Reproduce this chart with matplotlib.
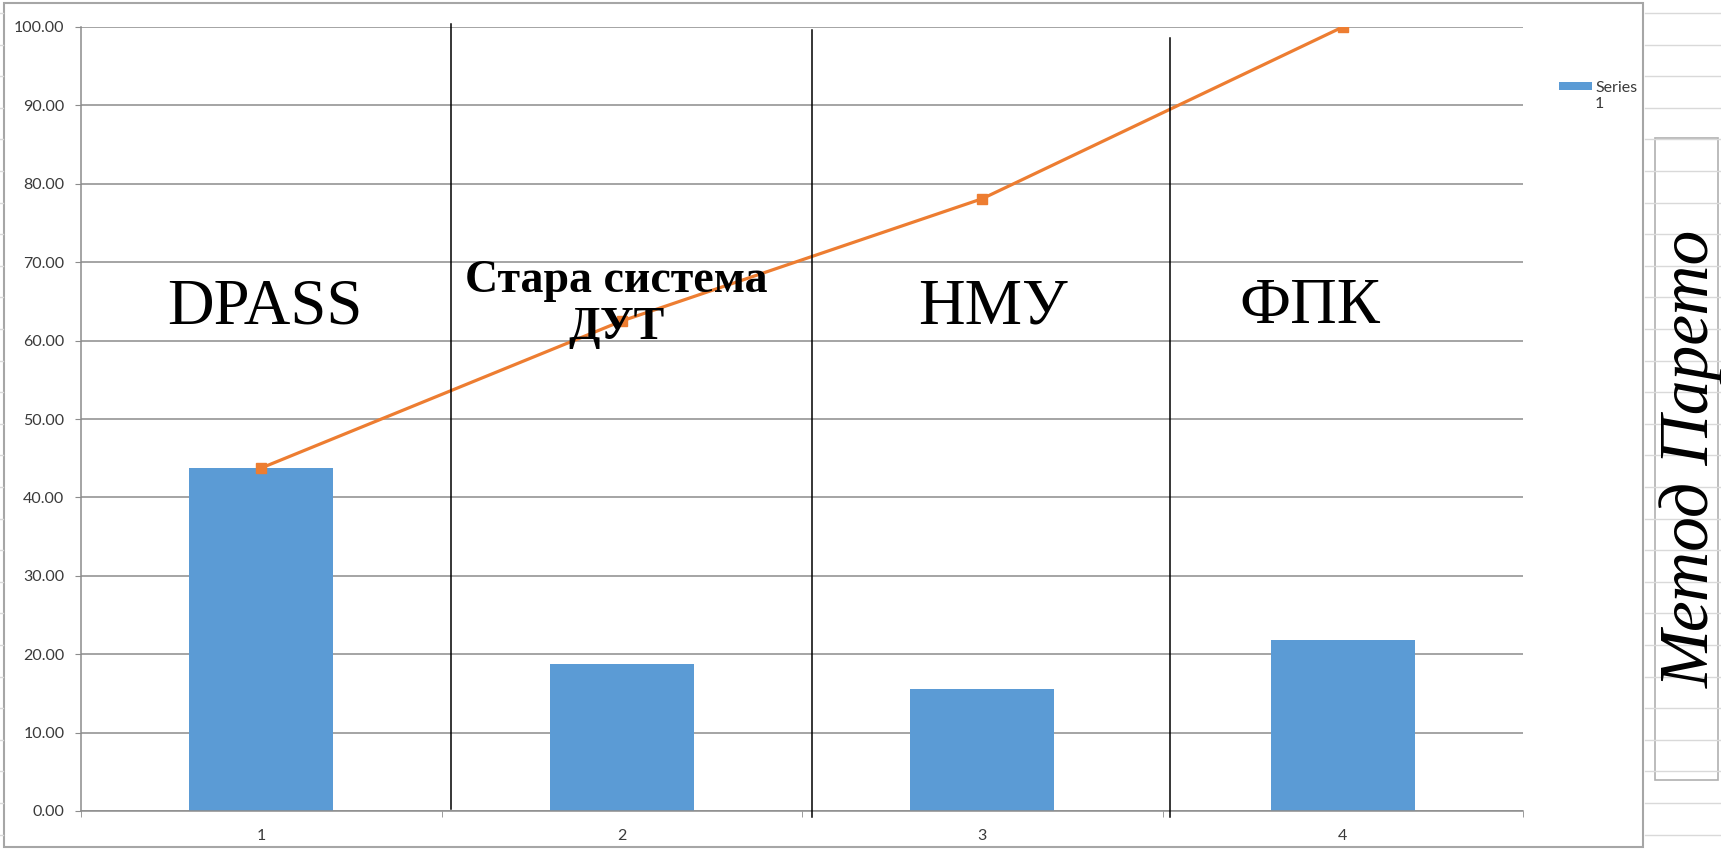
import numpy as np
import matplotlib.pyplot as plt
from matplotlib.patches import Rectangle
from matplotlib.lines import Line2D

# --------------------
# Data
# --------------------
categories = [1, 2, 3, 4]
shares = [43.75, 18.75, 15.625, 21.875]          # bars
cumulative = [43.75, 62.5, 78.1, 100.0]           # Pareto line
group_names = ["DPASS", "Стара система\nДУТ", "НМУ", "ФПК"]
group_bold = [False, True, False, False]
name_x = [1.01, 1.985, 3.03, 3.91]
name_y = [64.2, 64.6, 64.2, 64.2]
y_ticks = np.arange(0, 101, 10)
series_name = "Series\n1"
side_title = "Метод Парето"

# separator lines drawn by hand over the chart: x, y bottom, y top
sep_x = [1.526, 2.528, 3.52]
sep_y0 = [0.3, -0.8, -0.8]
sep_y1 = [100.4, 99.6, 98.6]

# --------------------
# Style
# --------------------
W, H, DPI = 1721, 851, 100
BAR_COLOR = "#5B9BD5"
LINE_COLOR = "#ED7D31"
GRID_COLOR = "#8c8c8c"
LABEL_COLOR = "#3a3a3a"
plt.rcParams["font.family"] = ["Lato", "DejaVu Sans"]


def px(x, y):
    # pixel (from top-left) -> figure fraction
    return x / W, 1 - y / H


fig = plt.figure(figsize=(W / DPI, H / DPI), dpi=DPI)
fig.patch.set_facecolor("white")

# spreadsheet cell lines behind the chart
for yy in np.arange(13, H, 31.6):
    fig.add_artist(Line2D([1645 / W, 1], [1 - yy / H] * 2, color="#d9d9d9", lw=1))
    fig.add_artist(Line2D([0, 3 / W], [1 - yy / H] * 2, color="#d9d9d9", lw=1))

# chart area border
x0, y0 = px(4, 847)
x1, y1 = px(1643, 3)
fig.add_artist(Rectangle((x0, y0), x1 - x0, y1 - y0, transform=fig.transFigure,
                         facecolor="white", edgecolor="#a6a6a6", lw=1.5, zorder=0))

# --------------------
# Plot area
# --------------------
left, bottom = px(81, 811)
right, top = px(1523, 27)
ax = fig.add_axes([left, bottom, right - left, top - bottom])
ax.set_facecolor("none")

ax.bar(categories, shares, width=0.4, color=BAR_COLOR, zorder=2)
ax.plot(categories, cumulative, color=LINE_COLOR, lw=2.3, marker="s",
        markersize=6.5, zorder=3)

ax.set_xlim(0.5, 4.5)
ax.set_ylim(0, 100)
ax.set_yticks(y_ticks)
ax.set_yticklabels([f"{v:.2f}" for v in y_ticks])
ax.set_xticks(categories)
ax.set_xticklabels([str(c) for c in categories])
ax.set_xticks(np.arange(0.5, 4.6, 1), minor=True)
ax.grid(axis="y", color=GRID_COLOR, lw=1.1, zorder=1)
ax.set_axisbelow(True)

for s in ["top", "right"]:
    ax.spines[s].set_visible(False)
for s in ["left", "bottom"]:
    ax.spines[s].set_color(GRID_COLOR)
    ax.spines[s].set_linewidth(1.1)

ax.tick_params(axis="y", length=4, color=GRID_COLOR, labelsize=11.5,
               labelcolor=LABEL_COLOR, pad=8)
ax.tick_params(axis="x", which="major", length=0, labelsize=11.5,
               labelcolor=LABEL_COLOR, pad=13)
ax.tick_params(axis="x", which="minor", length=4, color=GRID_COLOR)

# hand-drawn separators
for sx, sy0, sy1 in zip(sep_x, sep_y0, sep_y1):
    ax.plot([sx, sx], [sy0, sy1], color="black", lw=1.1, clip_on=False, zorder=4)

# big group names
for name, bold, nx, ny in zip(group_names, group_bold, name_x, name_y):
    ax.text(nx, ny, name, ha="center", va="center",
            family="Liberation Serif",
            fontsize=33 if bold else 46.5,
            fontweight="bold" if bold else "normal",
            linespacing=1.15, zorder=5)

# --------------------
# Legend (manual, Excel style)
# --------------------
lx, ly = px(1559, 90)
lx2, ly2 = px(1592, 82)
fig.add_artist(Rectangle((lx, ly), lx2 - lx, ly2 - ly, transform=fig.transFigure,
                         facecolor=BAR_COLOR, edgecolor="none"))
tx, ty = px(1595, 96)
fig.text(tx, ty, series_name, ha="left", va="center", fontsize=11.5,
         color=LABEL_COLOR, linespacing=1.2)

# --------------------
# Side text box
# --------------------
bx0, by0 = px(1655, 780)
bx1, by1 = px(1718, 138)
fig.add_artist(Rectangle((bx0, by0), bx1 - bx0, by1 - by0, transform=fig.transFigure,
                         facecolor="white", edgecolor="#b0b0b0", lw=1.2))
sx, sy = px(1692, 459)
fig.text(sx, sy, side_title, rotation=90, ha="center", va="center",
         family="Liberation Serif", style="italic", fontsize=50)

fig.savefig("out.png", dpi=DPI)
